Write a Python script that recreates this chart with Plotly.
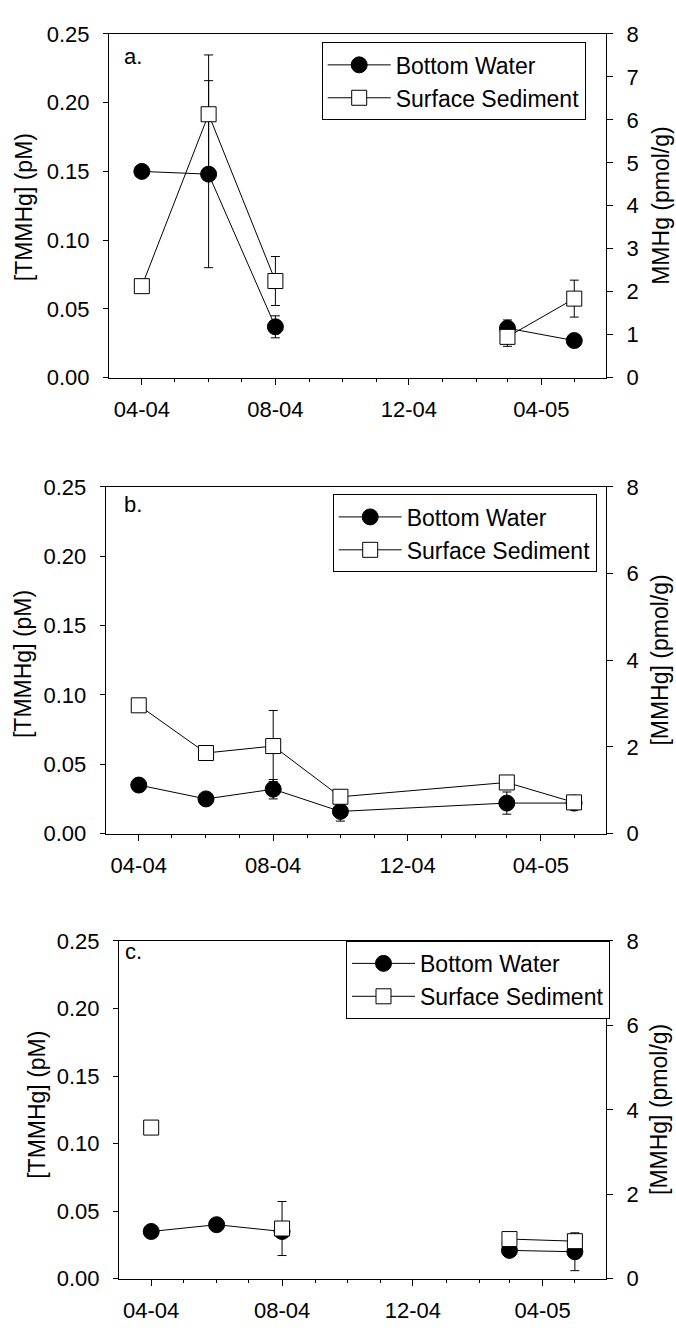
import plotly.graph_objects as go

W, H = 676, 1332

# ---------------- data ----------------
dates = ["2004-04-01", "2004-06-01", "2004-08-01", "2004-10-01", "2005-03-01", "2005-05-01"]

# panel a
a_bw = [0.150, 0.148, 0.037, None, 0.036, 0.027]
a_bw_err = [0, 0.068, 0.008, 0, 0.006, 0]
a_ss = [2.13, 6.13, 2.25, None, 0.95, 1.84]
a_ss_err = [0, 1.38, 0.57, 0, 0.22, 0.43]

# panel b
b_bw = [0.035, 0.025, 0.032, 0.016, 0.022, 0.022]
b_bw_err = [0, 0, 0.007, 0.007, 0.008, 0.002]
b_ss = [2.96, 1.86, 2.02, 0.85, 1.18, 0.72]
b_ss_err = [0, 0, 0.82, 0, 0, 0]

# panel c
c_bw = [0.035, 0.040, 0.035, None, 0.021, 0.020]
c_bw_err = [0, 0, 0, 0, 0, 0.014]
c_ss = [3.58, None, 1.19, None, 0.94, 0.89]
c_ss_err = [0, 0, 0.64, 0, 0, 0]

x_tickvals = ["2004-04-01", "2004-08-01", "2004-12-01", "2005-04-01"]
x_ticktext = ["04-04", "08-04", "12-04", "04-05"]
x_range = ["2004-03-02", "2005-05-30"]
left_ticks = [0.00, 0.05, 0.10, 0.15, 0.20, 0.25]
left_range = [0, 0.25]
right_range = [0, 8]
right_dtick = [1, 2, 2]

series_names = ["Bottom Water", "Surface Sediment"]
panel_labels = ["a.", "b.", "c."]
left_titles = ["[TMMHg] (pM)", "[TMMHg] (pM)", "[TMMHg] (pM)"]
right_titles = ["MMHg (pmol/g)", "[MMHg] (pmol/g)", "[MMHg] (pmol/g)"]

# ---------------- layout geometry (pixels) ----------------
panels = [
    dict(x0=109, x1=606, y0=22.3, y1=372.7),
    dict(x0=105.7, x1=606, y0=484, y1=837.3),
    dict(x0=119, x1=606, y0=946.7, y1=1291),
]
legend_pos = [(321.7, 31), (332.7, 491.7), (346, 946.7)]
label_pos = [(121.7, 45), (121.7, 502), (123.3, 957)]
ltitle_pos = [(24, 199), (22.5, 665), (36.7, 1114)]
rtitle_pos = [(661, 197.5), (660, 661), (659, 1119)]

FONT = "Liberation Sans, Arial, sans-serif"
TICKF = dict(family=FONT, size=22, color="black")

data_sets = [
    (a_bw, a_bw_err, a_ss, a_ss_err),
    (b_bw, b_bw_err, b_ss, b_ss_err),
    (c_bw, c_bw_err, c_ss, c_ss_err),
]

fig = go.Figure()
layout = dict(
    width=W, height=H, margin=dict(l=0, r=0, t=0, b=0),
    paper_bgcolor="white", plot_bgcolor="white",
    font=dict(family=FONT, size=22, color="black"),
)
annotations = []

for i, (bw, bwe, ss, sse) in enumerate(data_sets):
    p = panels[i]
    n = i + 1
    xa = "x" if n == 1 else f"x{n}"
    yl_id = 2 * i + 1
    yr_id = 2 * i + 2
    yl = "y" if yl_id == 1 else f"y{yl_id}"
    yr = f"y{yr_id}"
    leg = "legend" if n == 1 else f"legend{n}"

    fig.add_trace(go.Scatter(
        x=dates, y=bw, xaxis=xa, yaxis=yl, name=series_names[0], legend=leg,
        mode="lines+markers", connectgaps=False,
        line=dict(color="black", width=1),
        marker=dict(symbol="circle", size=16, color="black", line=dict(color="black", width=1)),
        error_y=dict(type="data", array=bwe, color="black", thickness=1, width=4.5),
    ))
    fig.add_trace(go.Scatter(
        x=dates, y=ss, xaxis=xa, yaxis=yr, name=series_names[1], legend=leg,
        mode="lines+markers", connectgaps=False,
        line=dict(color="black", width=1),
        marker=dict(symbol="square", size=15, color="white", line=dict(color="black", width=1)),
        error_y=dict(type="data", array=sse, color="black", thickness=1, width=4.5),
    ))

    xd = [p["x0"] / W, p["x1"] / W]
    yd = [1 - p["y1"] / H, 1 - p["y0"] / H]
    xkey = "xaxis" if n == 1 else f"xaxis{n}"
    ylkey = "yaxis" if yl_id == 1 else f"yaxis{yl_id}"
    yrkey = f"yaxis{yr_id}"

    layout[xkey] = dict(
        domain=xd, anchor=yl, type="date", range=x_range,
        tickmode="array", tickvals=x_tickvals, ticktext=x_ticktext,
        ticks="outside", ticklen=6, tickwidth=1, tickcolor="black",
        ticklabelstandoff=6,
        minor=dict(tickmode="linear", tick0="2004-04-01", dtick="M1",
                   ticks="outside", ticklen=3, tickwidth=1, tickcolor="black", showgrid=False),
        showline=True, linecolor="black", linewidth=1, mirror=True,
        showgrid=False, zeroline=False, tickfont=TICKF,
    )
    layout[ylkey] = dict(
        domain=yd, anchor=xa, range=left_range,
        tickmode="array", tickvals=left_ticks, tickformat=".2f",
        ticks="outside", ticklen=5, tickwidth=1, tickcolor="black",
        ticklabelstandoff=9,
        showline=True, linecolor="black", linewidth=1,
        showgrid=False, zeroline=False, tickfont=TICKF,
    )
    layout[yrkey] = dict(
        overlaying=yl, side="right", anchor=xa, range=right_range,
        tick0=0, dtick=right_dtick[i],
        ticks="outside", ticklen=6, tickwidth=1, tickcolor="black",
        ticklabelstandoff=9,
        showline=True, linecolor="black", linewidth=1,
        showgrid=False, zeroline=False, tickfont=TICKF,
    )
    lx, ly = legend_pos[i]
    layout[leg] = dict(
        x=lx / W, y=1 - ly / H, xanchor="left", yanchor="top",
        xref="paper", yref="paper",
        bgcolor="white", bordercolor="black", borderwidth=1,
        font=dict(family=FONT, size=23, color="black"),
        itemwidth=63, tracegroupgap=0,
    )

    tx, ty = label_pos[i]
    annotations.append(dict(text=panel_labels[i], x=tx / W, y=1 - ty / H, xref="paper", yref="paper",
                            xanchor="left", yanchor="middle", showarrow=False,
                            font=dict(family=FONT, size=22, color="black")))
    tx, ty = ltitle_pos[i]
    annotations.append(dict(text=left_titles[i], x=tx / W, y=1 - ty / H, xref="paper", yref="paper",
                            xanchor="center", yanchor="middle", showarrow=False, textangle=-90,
                            font=dict(family=FONT, size=23, color="black")))
    tx, ty = rtitle_pos[i]
    annotations.append(dict(text=right_titles[i], x=tx / W, y=1 - ty / H, xref="paper", yref="paper",
                            xanchor="center", yanchor="middle", showarrow=False, textangle=-90,
                            font=dict(family=FONT, size=23, color="black")))

layout["annotations"] = annotations
fig.update_layout(**layout)
fig.write_html("out.html")
